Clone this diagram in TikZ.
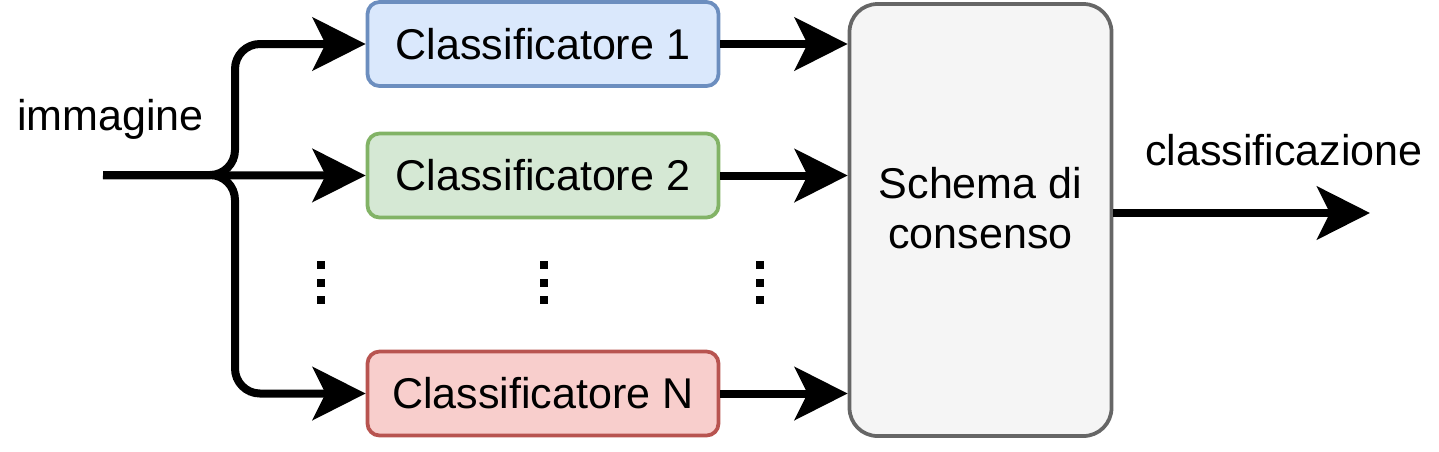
\documentclass[tikz,border=0pt]{standalone}
\usepackage{fontspec}
\setmainfont{Liberation Sans}
\usepackage{tikz}
\usetikzlibrary{arrows.meta, positioning, calc}
\definecolor{clblue}   {HTML}{DAE8FC}
\definecolor{clblued}  {HTML}{6C8EBF}
\definecolor{clgreen}  {HTML}{D5E8D4}
\definecolor{clgreend} {HTML}{82B366}
\definecolor{clred}    {HTML}{F8CECC}
\definecolor{clredd}   {HTML}{B85450}
\definecolor{clgray}   {HTML}{F5F5F5}
\definecolor{clgrayd}  {HTML}{666666}

\begin{document}
\begin{tikzpicture}[
  every node/.style={font=\fontsize{24.5}{28.5}\selectfont},
  box/.style={
    rectangle, rounded corners=0.24cm, minimum width=7.02cm, minimum height=1.68cm,
    text centered, draw, line width=0.075cm, inner sep=0pt
  },
  clf1/.style={box, fill=clblue, draw=clblued},
  clf2/.style={box, fill=clgreen, draw=clgreend},
  clfn/.style={box, fill=clred, draw=clredd},
  cons/.style={box, rounded corners=0.56cm, fill=clgray, draw=clgrayd,
    minimum width=5.24cm, minimum height=8.64cm, align=center, text depth=0.5cm},
  arr/.style={-{Stealth[length=1.06cm, width=1.06cm, inset=0.26cm]}, line width=0.16cm},
]
\useasboundingbox (0,0) rectangle (28.78,-9.02);

\node[clf1] (c1) at (10.86,-0.88) {Classificatore 1};
\node[clf2] (c2) at (10.86,-3.51) {Classificatore 2};
\node[clfn] (cN) at (10.86,-7.87) {Classificatore N};
\node[cons] (sch) at (19.61,-4.40) {Schema di\\consenso};

% input and fork
\coordinate (in)   at (2.06,-3.50);
\coordinate (fork) at (4.70,-3.50);
\coordinate (out)  at (27.40,-4.26);
\node[anchor=base] (img) at (2.21,-2.60) {immagine};
\node[anchor=base] (cls) at (25.68,-3.30) {classificazione};

% Arrows
\draw[arr] (in) -- (c2.west);
\draw[arr, rounded corners=0.5cm] (in) -- (fork) |- (c1.west);
\draw[arr, rounded corners=0.5cm] (in) -- (fork) |- (cN.west);
\draw[arr] (c1.east) -- (c1.east -| sch.west);
\draw[arr] (c2.east) -- (c2.east -| sch.west);
\draw[arr] (cN.east) -- (cN.east -| sch.west);
\draw[arr] (sch.east |- out) -- (out);

% dots
\foreach \x in {6.42,10.88,15.20}
  \foreach \y in {-5.30,-5.65,-6.00}
    \fill (\x-0.08,\y-0.08) rectangle ++(0.16,0.16);
\end{tikzpicture}
\end{document}
